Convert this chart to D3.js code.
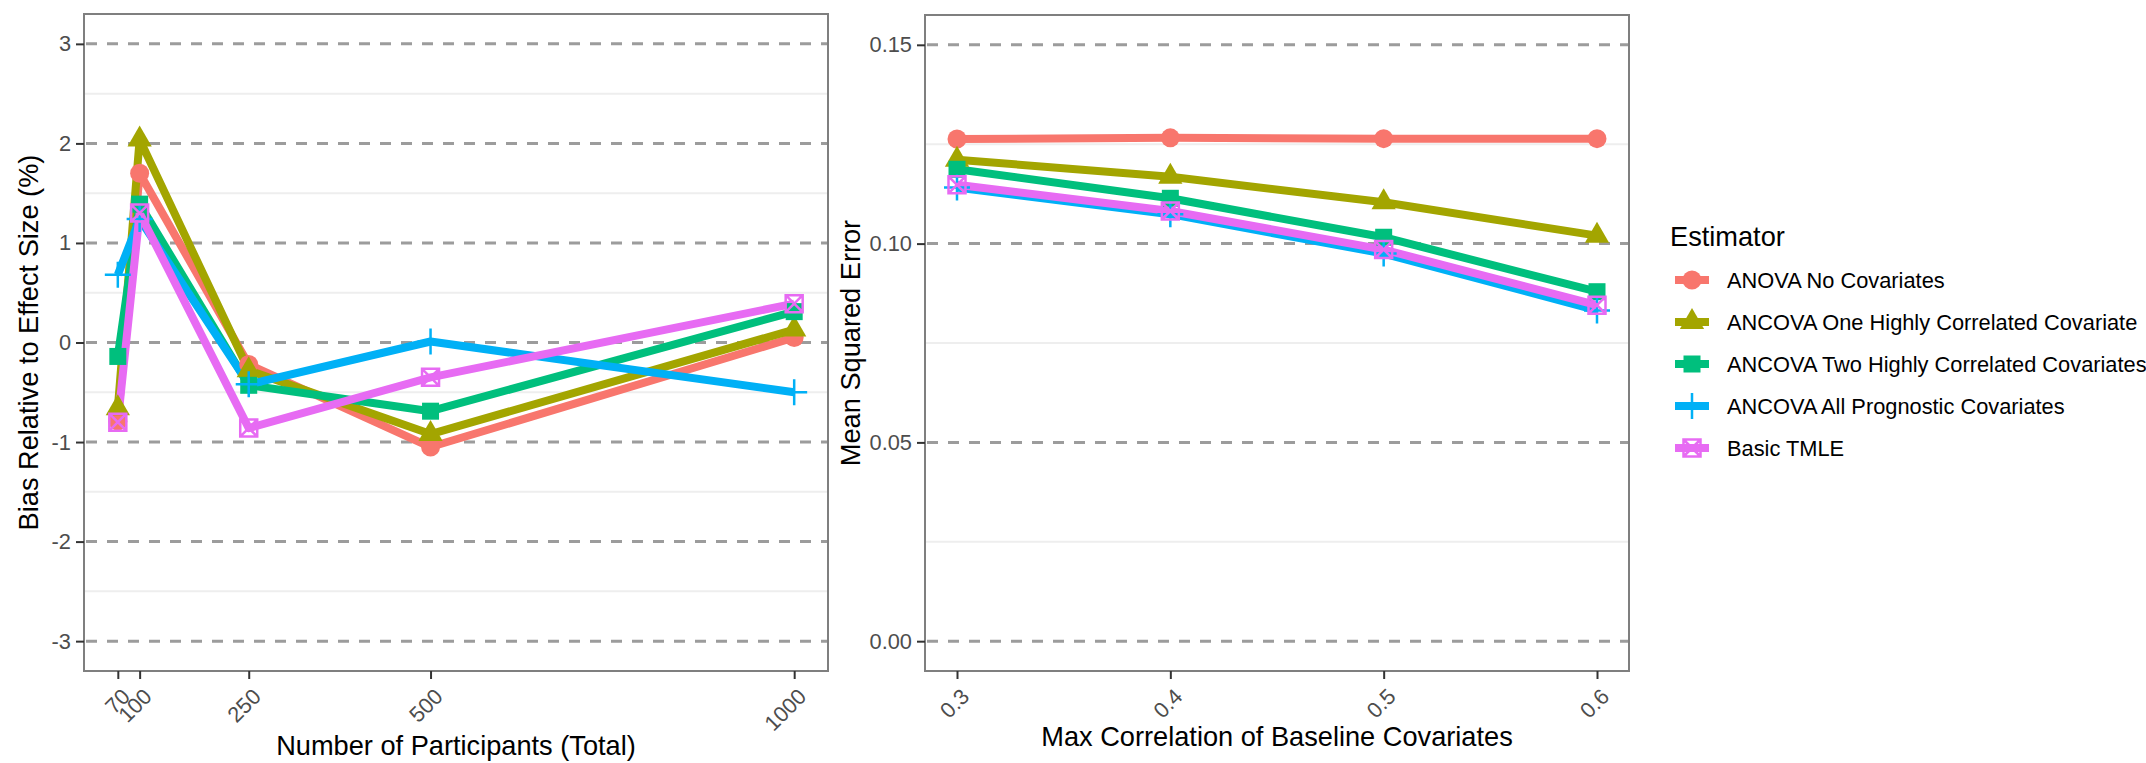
<!DOCTYPE html>
<html>
<head>
<meta charset="utf-8">
<script src="https://cdn.jsdelivr.net/npm/d3@7"></script>
<style>
  body { margin: 0; background: #fff; }
  svg { display: block; font-family: "Liberation Sans", Arial, sans-serif; }
</style>
</head>
<body>
<script>
// ---- data ----
const estimators = [
  "ANOVA No Covariates",
  "ANCOVA One Highly Correlated Covariate",
  "ANCOVA Two Highly Correlated Covariates",
  "ANCOVA All Prognostic Covariates",
  "Basic TMLE"
];
const colors = ["#F8766D", "#A3A500", "#00BF7D", "#00B0F6", "#E76BF3"];
const shapes = ["circle", "triangle", "square", "plus", "squarex"];

const sampleSizes = [70, 100, 250, 500, 1000];
const biasAnova = [-0.79, 1.70, -0.22, -1.05, 0.05];
const biasOne   = [-0.66, 2.04, -0.28, -0.92, 0.13];
const biasTwo   = [-0.14, 1.39, -0.43, -0.69, 0.31];
const biasAll   = [0.68, 1.24, -0.42, 0.01, -0.50];
const biasTmle  = [-0.80, 1.30, -0.86, -0.35, 0.39];

const correlations = [0.3, 0.4, 0.5, 0.6];
const mseAnova = [0.1263, 0.1266, 0.1264, 0.1264];
const mseOne   = [0.1211, 0.1168, 0.1104, 0.1020];
const mseTwo   = [0.1187, 0.1114, 0.1016, 0.0879];
const mseAll   = [0.1141, 0.1074, 0.0975, 0.0832];
const mseTmle  = [0.1148, 0.1082, 0.0985, 0.0845];

const biasTicks = [-3, -2, -1, 0, 1, 2, 3];
const biasMinor = [-2.5, -1.5, -0.5, 0.5, 1.5, 2.5];
const mseTicks = [0, 0.05, 0.10, 0.15];
const mseMinor = [0.025, 0.075, 0.125];

const biasSeries = [biasAnova, biasOne, biasTwo, biasAll, biasTmle];
const mseSeries = [mseAnova, mseOne, mseTwo, mseAll, mseTmle];

// ---- layout ----
const W = 2146, H = 763;
const svg = d3.select("body").append("svg").attr("width", W).attr("height", H);

const tickFont = 21.8, titleFont = 27.2;

function symbol(g, shape, x, y, color) {
  if (shape == "circle") {
    g.append("circle").attr("cx", x).attr("cy", y).attr("r", 9.5).attr("fill", color);
  } else if (shape == "triangle") {
    const r = 14, h = r * 0.866;
    g.append("path")
      .attr("d", `M${x},${y - r}L${x + h},${y + r / 2}L${x - h},${y + r / 2}Z`)
      .attr("fill", color);
  } else if (shape == "square") {
    g.append("rect").attr("x", x - 8.5).attr("y", y - 8.5).attr("width", 17).attr("height", 17).attr("fill", color);
  } else if (shape == "plus") {
    g.append("path")
      .attr("d", `M${x - 13},${y}H${x + 13}M${x},${y - 13}V${y + 13}`)
      .attr("stroke", color).attr("stroke-width", 2.5).attr("fill", "none");
  } else {
    g.append("path")
      .attr("d", `M${x - 8.5},${y - 8.5}H${x + 8.5}V${y + 8.5}H${x - 8.5}Z` +
                 `M${x - 8.5},${y - 8.5}L${x + 8.5},${y + 8.5}M${x + 8.5},${y - 8.5}L${x - 8.5},${y + 8.5}`)
      .attr("stroke", color).attr("stroke-width", 2.5).attr("fill", "none");
  }
}

function panel(opts) {
  const { x, y, xs, ys, series, xTicks, yTicks, yMinor, xFmt, yFmt, xTitle, yTitle, xTitleY, yTitleX } = opts;
  const g = svg.append("g");
  const [x0, x1] = x.range();
  const [y1, y0] = y.range();

  // minor grid
  g.selectAll(".minor").data(yMinor).enter().append("line")
    .attr("x1", x0).attr("x2", x1)
    .attr("y1", d => y(d)).attr("y2", d => y(d))
    .attr("stroke", "#eeeeee").attr("stroke-width", 2);
  // major grid (dashed)
  g.selectAll(".major").data(yTicks).enter().append("line")
    .attr("x1", x0 + 2).attr("x2", x1)
    .attr("y1", d => y(d)).attr("y2", d => y(d))
    .attr("stroke", "#9c9c9c").attr("stroke-width", 3)
    .attr("stroke-dasharray", "11,10");

  // lines then points
  const line = d3.line().x((d, i) => x(xs[i])).y(d => y(d));
  series.forEach((s, k) => {
    g.append("path").attr("d", line(s))
      .attr("fill", "none").attr("stroke", colors[k])
      .attr("stroke-width", 8).attr("stroke-linejoin", "round");
  });
  series.forEach((s, k) => {
    s.forEach((v, i) => symbol(g, shapes[k], x(xs[i]), y(v), colors[k]));
  });

  // border
  g.append("rect").attr("x", x0).attr("y", y0).attr("width", x1 - x0).attr("height", y1 - y0)
    .attr("fill", "none").attr("stroke", "#7f7f7f").attr("stroke-width", 2);

  // axes
  const yAxis = d3.axisLeft(y).tickValues(yTicks).tickFormat(yFmt).tickSize(8).tickPadding(5);
  const ya = g.append("g").attr("transform", `translate(${x0},0)`).call(yAxis);
  const xAxis = d3.axisBottom(x).tickValues(xTicks).tickFormat(xFmt).tickSize(8);
  const xa = g.append("g").attr("transform", `translate(0,${y1})`).call(xAxis);
  [ya, xa].forEach(a => {
    a.select(".domain").remove();
    a.selectAll(".tick line").attr("stroke", "#333").attr("stroke-width", 2);
    a.selectAll("text").attr("fill", "#4d4d4d").attr("font-size", tickFont).attr("font-family", null);
  });
  xa.selectAll("text")
    .attr("x", 0).attr("y", 0).attr("dy", 0)
    .attr("text-anchor", "end")
    .attr("transform", "translate(13,27) rotate(-45)");

  svg.append("text").attr("x", (x0 + x1) / 2).attr("y", xTitleY)
    .attr("text-anchor", "middle").attr("font-size", titleFont).attr("fill", "#000")
    .text(xTitle);
  svg.append("text")
    .attr("transform", `translate(${yTitleX},${(y0 + y1) / 2}) rotate(-90)`)
    .attr("text-anchor", "middle").attr("font-size", titleFont).attr("fill", "#000")
    .text(yTitle);
}

panel({
  x: d3.scaleLinear().domain([23.5, 1046.5]).range([84, 828]),
  y: d3.scaleLinear().domain([-3.3, 3.3]).range([671, 14]),
  xs: sampleSizes, series: biasSeries,
  xTicks: sampleSizes, yTicks: biasTicks, yMinor: biasMinor,
  xFmt: d => String(d), yFmt: d => String(d),
  xTitle: "Number of Participants (Total)", yTitle: "Bias Relative to Effect Size (%)",
  xTitleY: 755, yTitleX: 38
});

panel({
  x: d3.scaleLinear().domain([0.285, 0.615]).range([925, 1629]),
  y: d3.scaleLinear().domain([-0.0075, 0.1575]).range([671, 15]),
  xs: correlations, series: mseSeries,
  xTicks: correlations, yTicks: mseTicks, yMinor: mseMinor,
  xFmt: d3.format(".1f"), yFmt: d3.format(".2f"),
  xTitle: "Max Correlation of Baseline Covariates", yTitle: "Mean Squared Error",
  xTitleY: 746, yTitleX: 860
});

// ---- legend ----
const lg = svg.append("g");
lg.append("text").attr("x", 1670).attr("y", 246).attr("font-size", titleFont).attr("fill", "#000").text("Estimator");
estimators.forEach((name, k) => {
  const cy = 280 + k * 42;
  lg.append("line").attr("x1", 1675).attr("x2", 1709).attr("y1", cy).attr("y2", cy)
    .attr("stroke", colors[k]).attr("stroke-width", 8);
  symbol(lg, shapes[k], 1692, cy, colors[k]);
  lg.append("text").attr("x", 1727).attr("y", cy + 7.8)
    .attr("font-size", tickFont).attr("fill", "#000").text(name);
});
</script>
</body>
</html>
